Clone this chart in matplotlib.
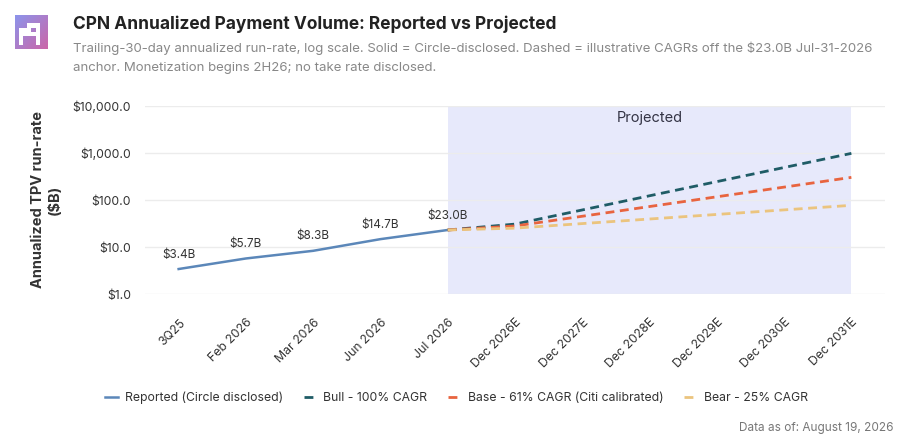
import matplotlib
matplotlib.use("Agg")
import matplotlib.pyplot as plt
import matplotlib.transforms as mtransforms
import numpy as np
from matplotlib.ticker import FixedLocator, FuncFormatter

plt.rcParams["font.family"] = ["Inter", "DejaVu Sans"]

# x categories
periods = ["3Q25", "Feb 2026", "Mar 2026", "Jun 2026", "Jul 2026",
           "Dec 2026E", "Dec 2027E", "Dec 2028E", "Dec 2029E", "Dec 2030E", "Dec 2031E"]

# reported run-rate ($B), first five periods
reported = [3.4, 5.7, 8.3, 14.7, 23.0]
reported_labels = ["$3.4B", "$5.7B", "$8.3B", "$14.7B", "$23.0B"]

# projections start at the Jul 2026 anchor (index 4)
bull = [23.0, 30.7, 61.4, 123.0, 246.0, 491.0, 982.0]
base = [23.0, 28.0, 45.1, 72.6, 117.0, 188.0, 303.0]
bear = [23.0, 25.2, 31.5, 39.4, 49.3, 61.6, 77.0]

C_REPORTED = "#5b87b9"
C_BULL = "#1f5c66"
C_BASE = "#e8643f"
C_BEAR = "#ebc47e"

fig = plt.figure(figsize=(9.13, 4.48), dpi=100)
ax = fig.add_axes([145 / 913, 1 - 294 / 448, 740 / 913, 188 / 448])

x_rep = np.arange(len(reported))
x_proj = np.arange(4, 4 + len(bull))

ax.axvspan(4, 10, color="#e7e9fb", zorder=0, lw=0)

dash = (0, (3.2, 2))
ax.plot(x_rep, reported, color=C_REPORTED, lw=1.8, zorder=3, label="Reported (Circle disclosed)")
ax.plot(x_proj, bull, color=C_BULL, lw=2, ls=dash, zorder=3, label="Bull - 100% CAGR")
ax.plot(x_proj, base, color=C_BASE, lw=2, ls=dash, zorder=3, label="Base - 61% CAGR (Citi calibrated)")
ax.plot(x_proj, bear, color=C_BEAR, lw=2, ls=dash, zorder=3, label="Bear - 25% CAGR")

for xi, yi, lab in zip(x_rep, reported, reported_labels):
    ax.annotate(lab, (xi, yi), xytext=(0, 6), textcoords="offset points",
                ha="center", va="bottom", fontsize=8.5, color="#333333", zorder=4)

ax.text(7, 0.935, "Projected", transform=ax.get_xaxis_transform(),
        ha="center", va="center", fontsize=10.5, color="#333344")

ax.set_yscale("log")
ax.set_ylim(1, 10000)
ax.set_xlim(-0.5, 10.5)
ax.yaxis.set_major_locator(FixedLocator([1, 10, 100, 1000, 10000]))
ax.yaxis.set_minor_locator(FixedLocator([]))
ax.yaxis.set_major_formatter(FuncFormatter(lambda v, p: f"${v:,.1f}"))
ax.set_xticks(np.arange(len(periods)))
ax.set_xticklabels(periods, rotation=45, ha="right", va="top", rotation_mode="anchor",
                   fontsize=8.8, color="#333333")
shift = mtransforms.ScaledTranslation(4 / 100, 0, fig.dpi_scale_trans)
for lbl in ax.get_xticklabels():
    lbl.set_transform(lbl.get_transform() + shift)
ax.tick_params(axis="y", labelsize=8.8, colors="#333333", length=0, pad=10)
ax.tick_params(axis="x", length=0, pad=16)
ax.grid(axis="y", color="#ececec", lw=1, zorder=1)
ax.set_axisbelow(True)
for s in ax.spines.values():
    s.set_visible(False)
ax.set_facecolor("none")

ax.set_ylabel("Annualized TPV run-rate\n($B)", fontsize=10.5, fontweight="bold",
              color="#333333", labelpad=8, linespacing=1.2)

fig.legend(loc="center", bbox_to_anchor=(0.500, 1 - 398 / 448), ncol=4, frameon=False,
           fontsize=8.8, handlelength=1.0, columnspacing=1.7, handletextpad=0.6,
           labelcolor="#333333")

# title block
fig.text(73 / 913, 1 - 24 / 448, "CPN Annualized Payment Volume: Reported vs Projected",
         fontsize=12.5, fontweight="bold", color="#222222", va="center")
fig.text(73 / 913, 1 - 48 / 448,
         "Trailing-30-day annualized run-rate, log scale. Solid = Circle-disclosed. Dashed = illustrative CAGRs off the $23.0B Jul-31-2026",
         fontsize=9.5, color="#888888", va="center")
fig.text(73 / 913, 1 - 68 / 448, "anchor. Monetization begins 2H26; no take rate disclosed.",
         fontsize=9.5, color="#888888", va="center")
fig.text(893 / 913, 1 - 428 / 448, "Data as of: August 19, 2026",
         fontsize=8.5, color="#777777", ha="right", va="center")

# logo: gradient square with blocky white glyph
lax = fig.add_axes([15 / 913, 1 - 49 / 448, 32 / 913, 34 / 448])
n = 64
gx, gy = np.meshgrid(np.linspace(0, 1, n), np.linspace(0, 1, n))
t = (gx + gy) / 2
c0 = np.array([0.55, 0.58, 0.92])
c1 = np.array([0.80, 0.40, 0.66])
img = c0[None, None, :] * (1 - t[..., None]) + c1[None, None, :] * t[..., None]
mask = np.array([
    [0, 0, 0, 0, 0, 0, 0, 0],
    [0, 0, 0, 0, 0, 0, 0, 0],
    [0, 0, 0, 1, 1, 1, 0, 0],
    [0, 1, 1, 1, 0, 1, 0, 0],
    [0, 1, 1, 1, 1, 1, 0, 0],
    [0, 1, 0, 0, 0, 1, 0, 0],
    [0, 1, 0, 0, 0, 1, 0, 0],
    [0, 0, 0, 0, 0, 0, 0, 0],
])
big = np.kron(mask, np.ones((n // 8, n // 8))).astype(bool)
img[big] = 1.0
lax.imshow(img, interpolation="nearest", aspect="auto")
lax.axis("off")

fig.savefig("out.png", dpi=100)
